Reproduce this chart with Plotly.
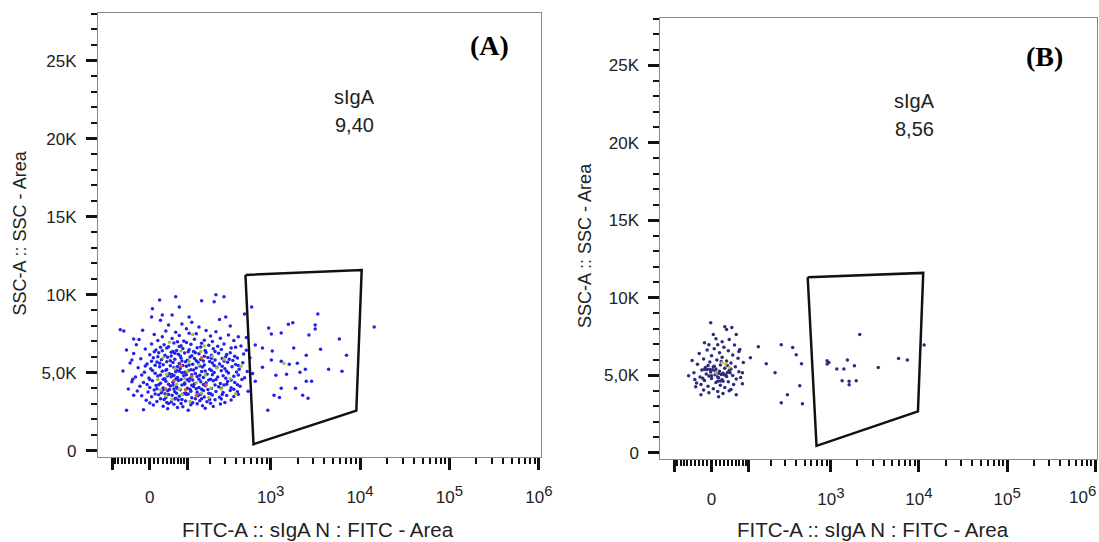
import numpy as np
import plotly.graph_objects as go

# biexponential-like display for the FITC axis (arcsinh, width W)
W = 89.0


def biex(v):
    return np.arcsinh(np.asarray(v, dtype=float) / W) / np.log(10)


def sup(n):
    return "10<sup><span style='font-size:15px'>%d</span></sup>" % n


# --- axes ---
x_major = [-100, 0, 100, 1e3, 1e4, 1e5, 1e6]
x_major_text = ["", "0", "", sup(3), sup(4), sup(5), sup(6)]
x_minor = ([-v for v in range(10, 100, 10)] + list(range(10, 100, 10))
           + [m * 10 ** k for k in (2, 3, 4, 5) for m in range(2, 10)])
y_major = [0, 5, 10, 15, 20, 25]
y_major_text = ["0", "5,0K", "10K", "15K", "20K", "25K"]
y_minor = [v for v in range(0, 29) if v % 5]

# --- panel A events: (FITC display position, SSC-A in K) ---
a_blue = [
    (0.12, 8.35), (0.47, 8.22), (0.78, 8.41),
    (0.21, 8.05), (0.55, 7.93), (0.36, 8.12), (0.90, 7.98),
    (-0.08, 7.72), (0.18, 7.66), (0.41, 7.81), (0.63, 7.70), (0.29, 7.58), (0.74, 7.62),
    (0.05, 7.44), (0.33, 7.38), (0.52, 7.49), (0.68, 7.35), (0.14, 7.29), (0.88, 7.41), (0.44, 7.52), (0.99, 7.30),
    (-0.12, 7.12), (0.09, 7.05), (0.25, 7.18), (0.38, 7.02), (0.50, 7.14), (0.61, 7.08), (0.79, 7.20), (0.31, 6.97),
    (0.70, 6.99), (0.94, 7.06),
    (0.02, 6.84), (0.16, 6.78), (0.27, 6.90), (0.35, 6.72), (0.46, 6.81), (0.58, 6.88), (0.66, 6.75), (0.83, 6.83),
    (0.21, 6.66), (0.41, 6.93), (1.02, 6.70), (-0.15, 6.79),
    (-0.05, 6.52), (0.07, 6.45), (0.19, 6.58), (0.30, 6.41), (0.37, 6.55), (0.44, 6.47), (0.53, 6.60), (0.62, 6.42),
    (0.71, 6.53), (0.80, 6.48), (0.91, 6.57), (0.26, 6.36), (0.49, 6.35), (1.08, 6.44),
    (-0.18, 6.22), (0.00, 6.15), (0.10, 6.27), (0.17, 6.12), (0.24, 6.30), (0.32, 6.18), (0.39, 6.25), (0.47, 6.08),
    (0.55, 6.21), (0.63, 6.29), (0.69, 6.11), (0.77, 6.24), (0.86, 6.16), (0.95, 6.05), (0.43, 6.33), (1.05, 6.19),
    (-0.10, 5.88), (0.04, 5.95), (0.13, 5.82), (0.20, 5.98), (0.28, 5.86), (0.35, 5.93), (0.42, 5.79), (0.50, 5.91),
    (0.57, 5.84), (0.65, 5.97), (0.73, 5.80), (0.81, 5.90), (0.89, 5.85), (0.98, 5.94), (0.23, 5.76), (0.60, 5.74),
    (-0.22, 5.62), (-0.03, 5.55), (0.08, 5.68), (0.15, 5.51), (0.26, 5.64), (0.33, 5.58), (0.40, 5.70), (0.48, 5.53),
    (0.54, 5.66), (0.61, 5.49), (0.70, 5.61), (0.78, 5.55), (0.87, 5.67), (0.96, 5.52), (1.04, 5.63), (0.37, 5.46),
    (-0.13, 5.31), (0.01, 5.24), (0.11, 5.37), (0.19, 5.20), (0.27, 5.33), (0.34, 5.27), (0.41, 5.40), (0.46, 5.18),
    (0.52, 5.29), (0.59, 5.36), (0.67, 5.22), (0.75, 5.34), (0.84, 5.25), (0.92, 5.38), (1.00, 5.21), (0.30, 5.15),
    (-0.06, 5.03), (0.06, 4.96), (0.14, 5.09), (0.22, 4.92), (0.29, 5.05), (0.36, 4.99), (0.43, 5.11), (0.51, 4.94),
    (0.58, 5.07), (0.64, 4.90), (0.72, 5.01), (0.80, 5.12), (0.88, 4.97), (0.97, 5.04), (0.25, 4.88), (0.47, 4.86),
    (-0.16, 4.72), (-0.01, 4.66), (0.09, 4.78), (0.17, 4.61), (0.24, 4.74), (0.31, 4.68), (0.38, 4.80), (0.45, 4.63),
    (0.53, 4.75), (0.60, 4.69), (0.68, 4.58), (0.76, 4.71), (0.85, 4.64), (0.94, 4.77), (0.35, 4.56), (1.06, 4.67),
    (-0.20, 4.42), (-0.07, 4.36), (0.03, 4.48), (0.12, 4.31), (0.18, 4.45), (0.26, 4.38), (0.32, 4.50), (0.39, 4.33),
    (0.44, 4.46), (0.50, 4.28), (0.57, 4.41), (0.63, 4.35), (0.71, 4.47), (0.79, 4.30), (0.87, 4.43), (0.95, 4.37),
    (0.21, 4.26), (0.48, 4.52),
    (-0.11, 4.12), (0.00, 4.05), (0.07, 4.18), (0.15, 4.01), (0.23, 4.14), (0.30, 4.08), (0.36, 4.20), (0.42, 3.99),
    (0.49, 4.11), (0.55, 4.04), (0.62, 4.16), (0.69, 3.98), (0.77, 4.09), (0.83, 4.21), (0.91, 4.03), (1.01, 4.13),
    (0.27, 3.95), (0.58, 3.94),
    (-0.14, 3.82), (-0.02, 3.75), (0.05, 3.88), (0.13, 3.71), (0.20, 3.84), (0.28, 3.78), (0.34, 3.90), (0.40, 3.69),
    (0.46, 3.81), (0.53, 3.74), (0.60, 3.86), (0.66, 3.68), (0.74, 3.79), (0.82, 3.72), (0.90, 3.85), (0.98, 3.77),
    (0.17, 3.65), (0.38, 3.64),
    (-0.09, 3.52), (0.02, 3.45), (0.10, 3.58), (0.18, 3.41), (0.25, 3.54), (0.33, 3.48), (0.41, 3.60), (0.47, 3.39),
    (0.54, 3.51), (0.61, 3.44), (0.70, 3.56), (0.78, 3.42), (0.86, 3.53), (0.94, 3.47), (0.29, 3.36), (0.51, 3.33),
    (-0.04, 3.22), (0.08, 3.15), (0.16, 3.28), (0.24, 3.11), (0.32, 3.24), (0.40, 3.18), (0.48, 3.06), (0.56, 3.20),
    (0.64, 3.13), (0.73, 3.26), (0.84, 3.09), (0.21, 3.02),
    (0.04, 2.92), (0.15, 2.85), (0.27, 2.97), (0.37, 2.81), (0.46, 2.94), (0.59, 2.88), (0.71, 2.83), (0.31, 2.76),
    (-0.07, 2.62), (0.20, 2.68), (0.43, 2.58), (0.62, 2.71),
    # second pass over the dense core
    (0.12, 6.62), (0.33, 6.68), (0.57, 6.64), (0.76, 6.69), (0.96, 6.63),
    (0.05, 6.33), (0.28, 6.24), (0.51, 6.27), (0.73, 6.35), (0.90, 6.28), (0.14, 6.40),
    (0.09, 6.02), (0.24, 6.07), (0.45, 6.00), (0.61, 6.04), (0.85, 6.01), (0.34, 6.06), (0.69, 5.92),
    (0.02, 5.72), (0.19, 5.70), (0.36, 5.74), (0.52, 5.76), (0.67, 5.71), (0.83, 5.74), (0.93, 5.78), (0.11, 5.60),
    (-0.05, 5.42), (0.06, 5.47), (0.23, 5.44), (0.44, 5.48), (0.56, 5.42), (0.72, 5.45), (0.81, 5.41), (0.99, 5.46),
    (0.31, 5.39),
    (0.03, 5.13), (0.18, 5.15), (0.33, 5.08), (0.49, 5.17), (0.62, 5.10), (0.69, 5.14), (0.86, 5.09), (0.39, 5.02),
    (1.09, 5.07),
    (-0.09, 4.84), (0.12, 4.85), (0.27, 4.82), (0.41, 4.87), (0.56, 4.83), (0.70, 4.86), (0.82, 4.80), (0.99, 4.84),
    (0.20, 4.79),
    (0.00, 4.55), (0.15, 4.57), (0.29, 4.59), (0.42, 4.54), (0.55, 4.58), (0.66, 4.53), (0.74, 4.56), (0.91, 4.52),
    (1.03, 4.55),
    (-0.03, 4.24), (0.10, 4.22), (0.26, 4.21), (0.39, 4.25), (0.47, 4.19), (0.60, 4.23), (0.73, 4.20), (0.86, 4.26),
    (0.98, 4.22),
    (0.08, 3.96), (0.22, 3.92), (0.31, 3.98), (0.45, 3.93), (0.52, 3.97), (0.65, 3.91), (0.80, 3.99), (0.94, 3.93),
    (0.15, 3.89),
    (0.06, 3.63), (0.21, 3.60), (0.30, 3.67), (0.43, 3.63), (0.57, 3.61), (0.68, 3.65), (0.81, 3.59), (0.99, 3.62),
    (0.12, 3.33), (0.28, 3.30), (0.36, 3.28), (0.58, 3.32), (0.67, 3.27), (0.80, 3.31), (0.91, 3.25),
    (0.00, 3.05), (0.19, 3.08), (0.35, 3.02), (0.53, 3.00), (0.68, 3.04), (0.79, 2.98),
    # sparse events, top and right of the cluster
    (0.11, 9.66), (0.29, 9.86), (0.74, 9.99), (0.83, 9.86), (0.72, 9.54), (0.33, 9.20), (0.03, 9.10), (0.58, 9.60),
    (1.14, 9.20), (0.25, 8.70), (0.14, 8.70), (0.02, 8.57), (0.44, 8.57), (1.06, 8.76), (0.85, 8.57),
    (1.88, 8.76), (2.51, 7.93), (1.60, 8.20), (1.55, 8.10), (1.85, 8.05), (1.85, 7.80), (1.33, 7.86), (1.47, 7.54),
    (1.78, 7.41), (2.12, 7.15), (-0.29, 7.67), (-0.18, 7.15), (1.36, 7.47), (1.18, 6.77), (1.26, 6.57), (1.61, 6.57),
    (1.37, 6.38), (1.91, 6.50), (2.20, 6.12), (1.75, 6.12), (1.36, 5.80), (1.47, 5.73), (1.56, 5.54), (1.65, 5.60),
    (1.26, 5.35), (2.00, 5.22), (2.15, 5.09), (1.68, 5.03), (1.74, 5.22), (1.41, 4.83), (1.53, 4.90), (1.75, 4.45),
    (1.81, 4.45), (1.18, 4.45), (1.47, 4.00), (1.63, 4.00), (1.39, 3.54), (1.45, 3.41), (1.71, 3.54), (1.77, 3.35),
    (1.32, 2.58), (-0.26, 2.58), (-0.20, 5.80), (-0.19, 4.57), (-0.18, 3.54), (-0.33, 7.75), (-0.26, 6.45),
    (-0.30, 5.10), (-0.24, 3.95), (1.12, 5.95), (1.15, 4.95), (1.10, 3.80), (1.08, 7.25),
]
a_green = [
    (0.22, 6.95), (0.48, 7.45), (0.35, 6.40), (0.61, 6.70), (0.15, 5.95), (0.44, 5.72), (0.70, 6.05), (0.28, 5.25),
    (0.55, 5.50), (0.83, 5.85), (0.19, 4.90), (0.39, 4.62), (0.62, 4.85), (0.75, 5.30), (0.30, 4.25), (0.52, 4.35),
    (0.68, 4.00), (0.12, 3.88), (0.36, 3.62), (0.58, 3.70), (0.80, 3.95), (0.25, 3.30), (0.45, 3.15), (0.66, 3.40),
    (0.09, 4.55), (0.90, 4.60), (0.42, 5.05), (1.02, 5.40), (0.33, 3.95), (0.57, 6.35), (0.96, 3.65), (0.18, 3.50),
    (1.50, 5.60),
]
a_red = [(0.40, 3.90), (0.27, 4.50), (0.52, 3.55), (0.63, 4.20), (0.35, 5.40), (0.18, 3.95), (0.47, 4.75), (0.58, 5.95)]

# --- panel B events ---
b_blue = [
    (-0.01, 8.39), (0.15, 8.13), (0.23, 8.07), (0.17, 7.94), (0.28, 7.62), (0.02, 7.62), (0.12, 7.16), (-0.03, 6.97),
    (0.07, 6.97), (0.44, 6.13), (0.36, 5.81), (-0.20, 5.16), (-0.26, 4.97), (-0.12, 4.39), (-0.12, 3.74),
    (-0.03, 3.87), (0.08, 3.61), (0.28, 3.74), (0.20, 4.00), (0.35, 4.45), (0.35, 5.16),
    (0.05, 7.35), (0.20, 7.30), (-0.08, 7.10), (0.26, 6.95), (0.14, 6.80), (-0.05, 6.62), (0.03, 6.70), (0.19, 6.58),
    (0.31, 6.52), (-0.14, 6.40), (0.09, 6.45), (0.24, 6.30), (0.00, 6.25), (0.12, 6.15), (-0.09, 6.05), (0.30, 6.10),
    (0.06, 5.98), (0.17, 5.92), (-0.02, 5.85), (0.22, 5.78), (-0.16, 5.70), (0.10, 5.66), (0.03, 5.58), (0.27, 5.55),
    (-0.07, 5.50), (0.15, 5.45), (0.05, 5.40), (-0.11, 5.34), (0.20, 5.30), (0.09, 5.25), (-0.01, 5.20), (0.31, 5.22),
    (0.13, 5.12), (-0.06, 5.08), (0.04, 5.03), (0.24, 4.98), (0.17, 4.92), (-0.13, 4.88), (0.08, 4.84), (0.00, 4.78),
    (0.28, 4.75), (0.12, 4.70), (-0.08, 4.65), (0.19, 4.58), (0.05, 4.52), (-0.17, 4.50), (0.25, 4.40), (0.10, 4.35),
    (-0.04, 4.28), (0.15, 4.20), (0.02, 4.12), (-0.09, 4.05), (0.22, 4.08), (0.07, 3.95), (0.13, 3.82), (-0.18, 4.25),
    (0.33, 4.85), (0.32, 6.65), (-0.22, 5.95), (-0.19, 4.72),
    (-0.08, 5.37), (-0.05, 5.36), (-0.02, 5.38), (0.01, 5.35), (0.11, 5.05), (0.14, 5.03), (0.16, 5.01), (0.07, 4.60),
    (0.10, 4.62), (0.13, 4.61), (0.02, 5.55), (0.18, 5.18), (0.21, 5.16), (-0.03, 4.95), (0.00, 4.97),
    (0.04, 5.27), (0.08, 5.12), (-0.04, 5.62), (0.18, 5.63), (0.07, 4.88), (0.22, 5.40), (-0.10, 4.80), (0.11, 5.88),
    # sparse events to the right
    (0.53, 6.84), (0.79, 6.97), (0.92, 6.78), (0.96, 6.32), (1.02, 5.74), (0.62, 5.74), (0.72, 5.16), (1.00, 4.32),
    (0.86, 3.74), (0.79, 3.22), (1.03, 3.16),
    (1.68, 7.62), (1.31, 5.93), (1.33, 5.82), (1.31, 5.72), (1.54, 5.98), (1.42, 5.40), (1.50, 5.40), (1.62, 5.61),
    (1.48, 4.64), (1.56, 4.60), (1.56, 4.38), (1.64, 4.64), (1.89, 5.50), (2.12, 6.08), (2.22, 5.98), (2.41, 6.95),
]
b_yellow = [(0.12, 5.80), (0.16, 5.72), (0.05, 5.15), (0.20, 5.50)]

# --- gates (FITC display position, SSC-A in K) ---
gate_a = [(1.07, 11.26), (2.37, 11.58), (2.31, 2.56), (1.16, 0.41)]
gate_b = [(1.09, 11.32), (2.40, 11.60), (2.34, 2.66), (1.19, 0.44)]
gate_labels = {"A": ("sIgA", "9,40"), "B": ("sIgA", "8,56")}

FONT = "Liberation Sans, Arial, sans-serif"
SERIF = "Liberation Serif, Times New Roman, serif"
fig = go.Figure()


def add_points(pts, color, xa, ya, size=3.5):
    fig.add_trace(go.Scatter(
        x=[p[0] for p in pts], y=[p[1] for p in pts], mode="markers",
        marker=dict(color=color, size=size, line=dict(width=0)),
        xaxis=xa, yaxis=ya, showlegend=False, hoverinfo="skip"))


def add_gate(g, xa, ya):
    xs = [p[0] for p in g] + [g[0][0]]
    ys = [p[1] for p in g] + [g[0][1]]
    fig.add_trace(go.Scatter(x=xs, y=ys, mode="lines", line=dict(color="#111", width=2.5),
                             xaxis=xa, yaxis=ya, showlegend=False, hoverinfo="skip"))


add_points(a_blue, "#2222ea", "x", "y")
add_points(a_green, "#9cc040", "x", "y")
add_points(a_red, "#e85a28", "x", "y")
add_gate(gate_a, "x", "y")

add_points(b_blue, "#2c2c80", "x2", "y2")
add_points(b_yellow, "#c8b848", "x2", "y2")
add_gate(gate_b, "x2", "y2")

xaxis_style = dict(
    range=[-0.58, 4.37], tickmode="array", tickvals=biex(x_major),
    ticks="outside", ticklen=12, tickwidth=2.5, tickcolor="#111",
    minor=dict(tickmode="array", tickvals=biex(x_minor), ticks="outside", ticklen=6, tickwidth=1.5,
               tickcolor="#111"),
    showline=True, linecolor="#888", linewidth=1, mirror=True, showgrid=False, zeroline=False,
    ticklabelstandoff=13, tickfont=dict(family=FONT, size=17, color="#222"),
)
yaxis_style = dict(
    range=[-0.4, 28.05], tickmode="array", tickvals=y_major, ticktext=y_major_text,
    ticks="outside", ticklen=11, tickwidth=2.5, tickcolor="#111",
    minor=dict(tickmode="array", tickvals=y_minor, ticks="outside", ticklen=6, tickwidth=1.5, tickcolor="#111"),
    showline=True, linecolor="#888", linewidth=1, mirror=True, showgrid=False, zeroline=False,
    ticklabelstandoff=6, tickfont=dict(family=FONT, size=17, color="#222"),
)

# panel B's last decade label sits on the window edge: it is drawn as an annotation below
b_tick_text = x_major_text[:-1] + [""]

# the captured page came out about 1% smaller than asked, so the canvas is a touch larger;
# every position below is a fraction of the reference's 1099x542 frame
fig.update_layout(
    width=1110, height=547, margin=dict(l=0, r=0, t=0, b=0),
    paper_bgcolor="white", plot_bgcolor="white",
    xaxis=dict(domain=[98 / 1099, 541 / 1099], anchor="y", ticktext=x_major_text, **xaxis_style),
    yaxis=dict(domain=[86 / 542, 529 / 542], anchor="x", **yaxis_style),
    xaxis2=dict(domain=[661 / 1099, 1098 / 1099], anchor="y2", ticktext=b_tick_text, **xaxis_style),
    yaxis2=dict(domain=[84 / 542, 524 / 542], anchor="x2", **yaxis_style),
)


def px(x, y):
    return x / 1099, 1 - y / 542


annots = [
    ("SSC-A :: SSC - Area", 20, 232, -90, 18, FONT, "#222", "center"),
    ("FITC-A :: sIgA N : FITC - Area", 318, 529, 0, 20.5, FONT, "#222", "center"),
    ("SSC-A :: SSC - Area", 586, 245, -90, 18, FONT, "#222", "center"),
    ("FITC-A :: sIgA N : FITC - Area", 874, 529, 0, 20.5, FONT, "#222", "center"),
    ("<b>(A)</b>", 490, 45, 0, 28, SERIF, "#000", "center"),
    ("<b>(B)</b>", 1045, 56, 0, 28, SERIF, "#000", "center"),
    (gate_labels["A"][0], 355, 97, 0, 20, FONT, "#222", "center"),
    (gate_labels["A"][1], 355, 125, 0, 20, FONT, "#222", "center"),
    (gate_labels["B"][0], 915, 101, 0, 20, FONT, "#222", "center"),
    (gate_labels["B"][1], 915, 129, 0, 20, FONT, "#222", "center"),
    (x_major_text[-1], 1099, 494, 0, 17, FONT, "#222", "right"),
]
for text, x, y, ang, size, fam, col, xanc in annots:
    ax, ay = px(x, y)
    fig.add_annotation(text=text, x=ax, y=ay, xref="paper", yref="paper", showarrow=False,
                       textangle=ang, xanchor=xanc, yanchor="middle",
                       font=dict(family=fam, size=size, color=col))

# drop the default 8px body margin so the page is just the figure
page_fix = ("document.body.style.margin='0';"
            "document.body.style.overflow='hidden';"
            "document.documentElement.style.overflow='hidden';")
fig.write_html("out.html", post_script=page_fix, config={"displayModeBar": False})
